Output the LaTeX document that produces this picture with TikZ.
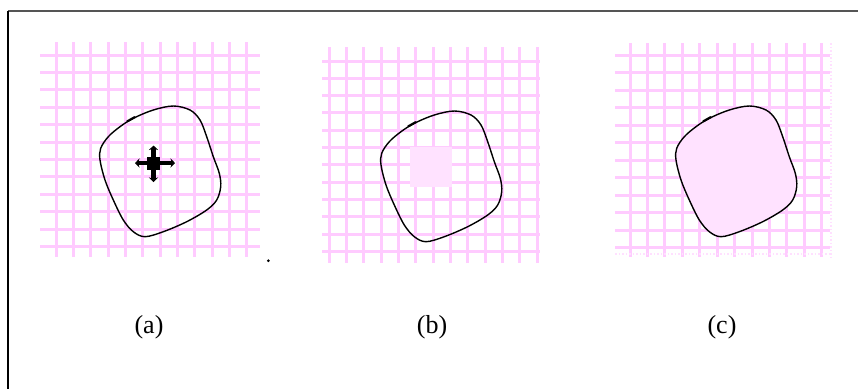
\documentclass[tikz,border=0pt]{standalone}
\usepackage{fontspec}
\setmainfont{Liberation Serif}
\usetikzlibrary{arrows.meta}
\definecolor{gridpink}{HTML}{FFCBFF}
\definecolor{fillpink}{HTML}{FFE2FF}
\definecolor{framegray}{HTML}{555555}

\tikzset{
  blob/.pic={
    \path[pic actions, draw=black, line width=1.4pt]
      plot[smooth cycle, tension=0.55] coordinates {
        (173.3,106) (190,110) (200,120) (206.7,136.7) (213.3,156.7)
        (219.3,173.3) (220.7,186.7) (216.7,200) (206.7,210) (186.7,221.7)
        (163.3,231.7) (145,236.7) (133.3,231.7) (123.3,220) (113.3,200)
        (105,180) (100,160) (100.7,148.3) (108.3,136.7) (120,126.7)
        (133.3,118.3) (153.3,110)};
    \draw[line width=2.2pt] (127,121.5) -- (135,117);
  }
}

\begin{document}
\begin{tikzpicture}[
  x=1pt, y=-1pt,
  gridline/.style={gridpink, line width=3pt},
  faintline/.style={gridpink!60, line width=1.5pt, dotted},
  lbl/.style={font=\fontsize{26}{30}\selectfont, inner sep=0pt},
  movearrow/.style={line width=4.2pt,
    {Stealth[length=4.5pt,width=9pt]}-{Stealth[length=4.5pt,width=9pt]}}
]
\useasboundingbox (0,0) rectangle (858,389);

% ── Frame ─────────────────────────────────────────────────────────────────
\draw[framegray, line width=1.8pt] (8,11) -- (858,11);
\draw[black, line width=1.5pt] (8,11) -- (8,389);

% ── Grids ─────────────────────────────────────────────────────────────────
% (a)
\foreach \k in {0,...,11} {
  \draw[gridline] ({56+17.35*\k},42) -- ({56+17.35*\k},257);
  \draw[gridline] (40,{55+17.4*\k}) -- (260,{55+17.4*\k});
}
% (b)
\foreach \k in {0,...,12}
  \draw[gridline] ({329+17.36*\k},47) -- ({329+17.36*\k},263);
\foreach \k in {0,...,11}
  \draw[gridline] (322,{61+17.3*\k}) -- (540,{61+17.3*\k});
% (c)
\foreach \k in {0,...,11} {
  \draw[gridline] ({630+17.43*\k},43) -- ({630+17.43*\k},257);
  \draw[gridline] (615,{55+17.5*\k}) -- (830,{55+17.5*\k});
}
\draw[faintline] (831,43) -- (831,257);
\draw[faintline] (615,254) -- (830,254);

% ── Panel (a): region with move handle ────────────────────────────────────
\pic at (0,0) {blob};
\fill (147,156.5) rectangle (160,169.5);
\draw[movearrow] (135,163) -- (175,163);
\draw[movearrow] (153.5,145.5) -- (153.5,182);
\fill (268.3,260.7) circle[radius=1.5pt];

% ── Panel (b): seed square ────────────────────────────────────────────────
\fill[fillpink] (410,146.7) rectangle (451.7,186.7);
\pic at (281,5) {blob};

% ── Panel (c): filled region ──────────────────────────────────────────────
\pic[fill=fillpink] at (576,0) {blob};

% ── Labels ────────────────────────────────────────────────────────────────
\node[lbl] (lbla) at (149,327) {(a)};
\node[lbl] (lblb) at (432,327) {(b)};
\node[lbl] (lblc) at (722,327) {(c)};

\end{tikzpicture}
\end{document}
